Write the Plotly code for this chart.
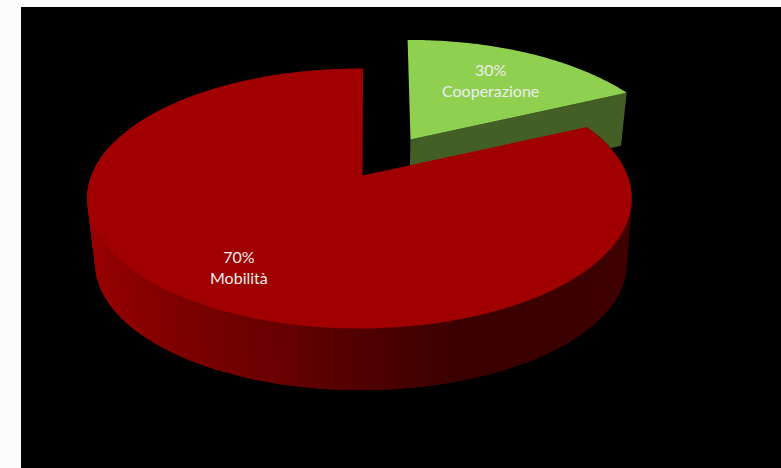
import numpy as np
import plotly.graph_objects as go

# --- data ---
slice_names = ["Cooperazione", "Mobilità"]
slice_percent_labels = ["30%", "70%"]          # printed on the slices
# angular share each slice actually occupies in the drawing (clockwise from 12 o'clock)
slice_start_deg = [-0.8, 65.6]
slice_sweep_deg = [66.4, 295.3]

# --- style ---
TOP_COLORS = ["#90D050", "#A00000"]
GREEN_SIDE = "#445F26"
SHADE_U = [-1.0, -0.6, -0.25, 0.0, 0.35, 1.0]
SHADE_RGB = [(0x9C, 0, 0), (0x80, 0, 0), (0x68, 0, 0), (0x50, 0, 0), (0x3A, 0, 0), (0x40, 0, 0)]

RED = dict(cx=359.5, cy=175.5, rx=268.0, ry=125.9, p=0.177)
RED_LOW = dict(cx=361.0, cy=240.7, rx=261.6, ry=122.9, p=0.177)
GREEN = dict(cx=410.5, cy=139.5, rx=263.0, ry=125.6, p=0.262)
GREEN_LOW = dict(cx=409.3, cy=191.6, rx=257.7, ry=123.1, p=0.262)


def project(deg, g):
    t = np.radians(deg)
    u, v = np.sin(t), np.cos(t)
    d = 1 + g["p"] * v
    return g["cx"] + g["rx"] * u / d, g["cy"] - g["ry"] * v / d


def poly(xs, ys, color):
    return go.Scatter(x=list(xs), y=list(ys), mode="none", fill="toself", fillcolor=color,
                      hoverinfo="skip", showlegend=False)


def shade(u):
    r = np.interp(u, SHADE_U, [c[0] for c in SHADE_RGB])
    return f"rgb({int(r)},0,0)"


fig = go.Figure()

# green slice (further back): radial side face, then top
a0, sw = slice_start_deg[0], slice_sweep_deg[0]
a1 = a0 + sw
ex, ey = project(a1, GREEN)
lx, ly = project(a1, GREEN_LOW)
fig.add_trace(poly([GREEN["cx"], ex, lx, GREEN_LOW["cx"]],
                   [GREEN["cy"], ey, ly, GREEN_LOW["cy"]], GREEN_SIDE))
ang = np.linspace(a0, a1, 80)
xs, ys = project(ang, GREEN)
fig.add_trace(poly(np.r_[GREEN["cx"], xs], np.r_[GREEN["cy"], ys], TOP_COLORS[0]))

# red slice: outer wall made of overlapping shaded strips, painted from the
# left end of the wall towards the right so no seams show, then the top
b0, sw = slice_start_deg[1], slice_sweep_deg[1]
STEP = 2.0
edges = np.arange(b0, b0 + sw + STEP, STEP)
visible = [(s, e) for s, e in zip(edges[:-1], edges[1:]) if np.cos(np.radians((s + e) / 2)) <= 0.3]
for s, e in reversed(visible):
    mid = np.radians((s + e) / 2)
    lo = max(s - STEP * 2, b0)
    seg = np.linspace(lo, e, 4)
    x1, y1 = project(seg, RED)
    x2, y2 = project(seg[::-1], RED_LOW)
    fig.add_trace(poly(np.r_[x1, x2], np.r_[y1, y2], shade(np.sin(mid))))
ang = np.linspace(b0, b0 + sw, 300)
xs, ys = project(ang, RED)
fig.add_trace(poly(np.r_[RED["cx"] + 3, xs], np.r_[RED["cy"], ys], TOP_COLORS[1]))

# labels
label_xy = [(490, 80.3), (238.5, 267.2)]
for name, pct, (x, y) in zip(slice_names, slice_percent_labels, label_xy):
    fig.add_annotation(x=x, y=y, text=f"{pct}<br>{name}", showarrow=False,
                       font=dict(family="Lato, Carlito, sans-serif", size=16, color="#EDEDED"),
                       align="center")

fig.update_layout(
    width=781, height=468, margin=dict(l=0, r=0, t=0, b=0),
    paper_bgcolor="#FBFBFB", plot_bgcolor="#FBFBFB",
    xaxis=dict(range=[0, 781], visible=False, fixedrange=True),
    yaxis=dict(range=[468, 0], visible=False, fixedrange=True),
    shapes=[dict(type="rect", layer="below", x0=21, x1=781, y0=7, y1=468,
                 fillcolor="#000000", line=dict(width=0))],
)
fig.write_html("out.html", config=dict(displayModeBar=False),
               post_script="document.body.style.margin='0';")
